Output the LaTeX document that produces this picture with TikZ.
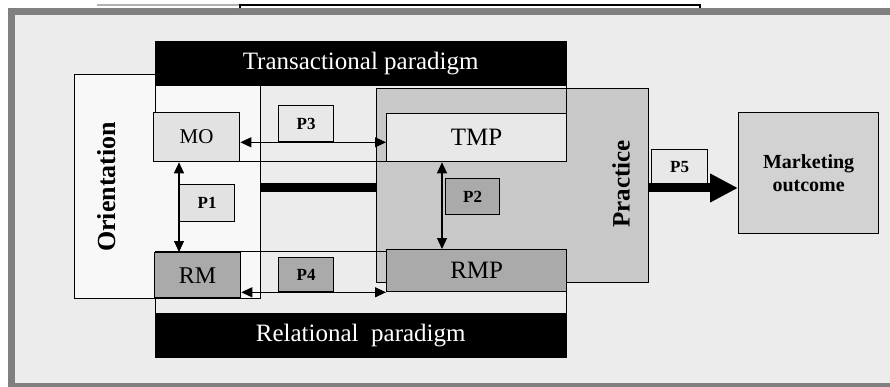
\documentclass[tikz,border=0pt]{standalone}
\usepackage{fontspec}
\setmainfont{Liberation Serif}
\usetikzlibrary{arrows.meta}
\definecolor{bgc}{HTML}{ECECEC}
\definecolor{framec}{HTML}{808080}
\definecolor{orc}{HTML}{F8F8F8}
\definecolor{lightc}{HTML}{E2E2E2}
\definecolor{lighterc}{HTML}{E8E8E8}
\definecolor{darkc}{HTML}{AAAAAA}
\definecolor{prc}{HTML}{C8C8C8}
\definecolor{mkc}{HTML}{D2D2D2}
\begin{document}
\begin{tikzpicture}[x=1pt,y=-1pt,
  box/.style={draw=black, line width=1.3pt, inner sep=0pt, anchor=north west},
  plab/.style={box, font=\bfseries\fontsize{17}{20}\selectfont},
  big/.style={font=\fontsize{25}{30}\selectfont},
  mid/.style={font=\fontsize{21}{25}\selectfont},
  dbl/.style={{Triangle[length=11pt,width=10pt]}-{Triangle[length=11pt,width=10pt]}, line width=1.2pt},
  thickarrow/.style={-{Triangle[length=28pt,width=27pt]}, line width=9pt},
  header/.style={fill=black, draw=black, inner sep=0pt, anchor=north west, text=white, font=\fontsize{25}{30}\selectfont}
]
\clip (0,0) rectangle (890,387);
\useasboundingbox (0,0) rectangle (890,387);
% page background and outer frame
\fill[white] (0,0) rectangle (890,387);
\fill[framec] (8,8) rectangle (900,400);
\fill[bgc] (15,15) rectangle (900,383);
% top strip remnants
\draw[gray!60, line width=1.5pt] (97,5) -- (240,5);
\draw[black, line width=2pt] (240,8.5) -- (240,5.5) -- (700,5.5) -- (700,8.5);
% orientation box
\node[box, fill=orc, minimum width=186pt, minimum height=224pt] (orient) at (74,74) {};
\coordinate (yref) at (0,188);
% marketing outcome box
\node[box, fill=mkc, minimum width=140pt, minimum height=121pt, align=center,
      font=\bfseries\fontsize{20}{23}\selectfont] (mkt) at (738,112) {Marketing\\outcome};
% thick arrow orientation -> practice -> outcome
\draw[thickarrow] (orient.east |- yref) -- (mkt.west |- yref);
% practice box
\node[box, fill=prc, minimum width=272pt, minimum height=194pt] (prac) at (376,88) {};
% paradigm frames
\node[box, minimum width=411pt, minimum height=120pt] (tframe) at (155,41) {};
\node[box, minimum width=411pt, minimum height=106pt] (rframe) at (155,251) {};
\node[header, minimum width=411pt, minimum height=44pt] (thead) at (155,41) {Transactional paradigm};
\node[header, minimum width=411pt, minimum height=44pt] (rhead) at (155,313) {Relational\ \ paradigm};
% main boxes
\node[box, fill=lightc, minimum width=86pt, minimum height=49pt, mid] (mo) at (153,112) {MO};
\node[box, fill=darkc, minimum width=86pt, minimum height=45pt, font=\fontsize{24}{28}\selectfont] (rm) at (154,252) {RM};
\node[box, fill=lighterc, minimum width=180pt, minimum height=48pt, big] (tmp) at (386,113) {TMP};
\node[box, fill=darkc, minimum width=180pt, minimum height=42pt, big] (rmp) at (386,249) {RMP};
% P labels
\node[plab, fill=lightc, minimum width=55pt, minimum height=37pt] (p1) at (179,184) {P1};
\node[plab, fill=darkc, minimum width=54pt, minimum height=36pt] (p2) at (445,178) {P2};
\node[plab, fill=lighterc, minimum width=55pt, minimum height=36pt] (p3) at (278,105) {P3};
\node[plab, fill=darkc, minimum width=55pt, minimum height=34pt] (p4) at (278,257) {P4};
\node[plab, fill=lighterc, minimum width=56pt, minimum height=34pt] (p5) at (651,149) {P5};
% connectors
\draw[dbl] (mo.east |- p3.south) -- (tmp.west |- p3.south);
\draw[dbl] (rm.east |- p4.south) -- (rmp.west |- p4.south);
\draw[dbl] (p1.west |- mo.south) -- (p1.west |- rm.north);
\draw[dbl] ([xshift=-3pt]p2.west |- tmp.south) -- ([xshift=-3pt]p2.west |- rmp.north);
% rotated labels
\node[rotate=90, font=\bfseries\fontsize{26}{30}\selectfont] (orlab) at (107,187) {Orientation};
\node[rotate=90, font=\bfseries\fontsize{25}{30}\selectfont] (prlab) at (621,184) {Practice};
\end{tikzpicture}
\end{document}
